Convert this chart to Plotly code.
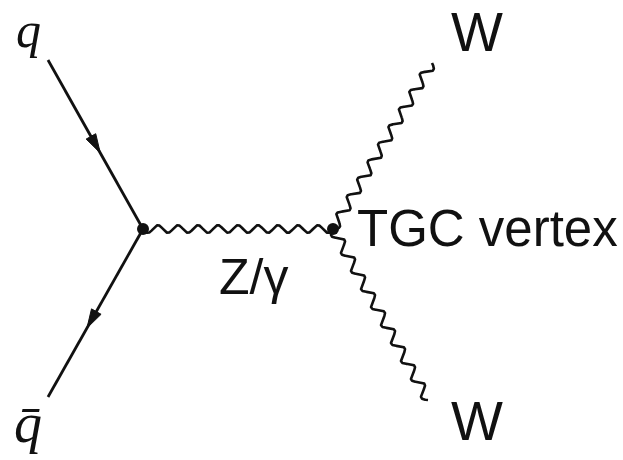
import numpy as np
import plotly.graph_objects as go

# Diagram geometry (pixel coordinates, y grows downward)
quark_start = [48, 60]
antiquark_end = [48, 397]
vertex_left = [143, 229]
vertex_tgc = [333, 229]
w_plus_end = [432, 63]
w_minus_end = [428, 400]

# Labels
label_q = "q"
label_qbar = "q\u0304"
label_w = "W"
label_boson = "Z/\u03b3"
label_vertex = "TGC vertex"

INK = "#111111"


def boson_line(p0, p1, n_waves, amp, pts=800):
    """Sinusoidal (photon-style) propagator between two points."""
    t = np.linspace(0, 1, pts)
    dx, dy = p1[0] - p0[0], p1[1] - p0[1]
    length = np.hypot(dx, dy)
    nx, ny = -dy / length, dx / length
    s = amp * np.sin(2 * np.pi * n_waves * t)
    return p0[0] + dx * t + nx * s, p0[1] + dy * t + ny * s


def arrow_head(p0, p1, frac, length=19, half_width=5.5):
    """Filled triangle on the segment p0->p1, tip at fraction frac."""
    dx, dy = p1[0] - p0[0], p1[1] - p0[1]
    L = np.hypot(dx, dy)
    ux, uy = dx / L, dy / L
    tx, ty = p0[0] + dx * frac, p0[1] + dy * frac
    bx, by = tx - ux * length, ty - uy * length
    px, py = -uy * half_width, ux * half_width
    return [tx, bx + px, bx - px, tx], [ty, by + py, by - py, ty]


fig = go.Figure()

# fermion lines
for a, b in [(quark_start, vertex_left), (vertex_left, antiquark_end)]:
    fig.add_trace(go.Scatter(x=[a[0], b[0]], y=[a[1], b[1]], mode="lines",
                             line=dict(color=INK, width=2.8), hoverinfo="skip"))

# fermion arrows
for (a, b, f) in [(quark_start, vertex_left, 0.55), (vertex_left, antiquark_end, 0.59)]:
    ax, ay = arrow_head(a, b, f)
    fig.add_trace(go.Scatter(x=ax, y=ay, mode="lines", fill="toself",
                             fillcolor=INK, line=dict(color=INK, width=1),
                             hoverinfo="skip"))

# gauge boson lines
wave_style = dict(color=INK, width=2.6)
for p0, p1, n, amp in [(vertex_left, vertex_tgc, 9.5, 3.8),
                       (vertex_tgc, w_plus_end, 9.5, 4.8),
                       (vertex_tgc, w_minus_end, 9.5, 4.8)]:
    wx, wy = boson_line(p0, p1, n, amp)
    fig.add_trace(go.Scatter(x=wx, y=wy, mode="lines", line=wave_style,
                             hoverinfo="skip"))

# vertices
fig.add_trace(go.Scatter(x=[vertex_left[0], vertex_tgc[0]],
                         y=[vertex_left[1], vertex_tgc[1]], mode="markers",
                         marker=dict(color=INK, size=12), hoverinfo="skip"))

serif = dict(family="Liberation Serif", color=INK)
sans = dict(family="Liberation Sans", color=INK)

annotations = [
    dict(x=28, y=0, text=f"<i>{label_q}</i>", font=dict(serif, size=50), xanchor="center", yanchor="top"),
    dict(x=28, y=423, text=f"<i>{label_qbar}</i>", font=dict(serif, size=56), xanchor="center", yanchor="middle"),
    dict(x=477, y=32, text=label_w, font=dict(sans, size=55), xanchor="center", yanchor="middle"),
    dict(x=477, y=421, text=label_w, font=dict(sans, size=55), xanchor="center", yanchor="middle"),
    dict(x=253, y=277, text=label_boson, font=dict(sans, size=50), xanchor="center", yanchor="middle"),
    dict(x=355, y=228, text=label_vertex, font=dict(sans, size=51), xanchor="left", yanchor="middle"),
]
for a in annotations:
    a.update(xref="x", yref="y", showarrow=False)

fig.update_layout(
    width=623, height=460,
    margin=dict(l=0, r=0, t=0, b=0),
    paper_bgcolor="white", plot_bgcolor="white",
    showlegend=False,
    xaxis=dict(range=[0, 623], visible=False, fixedrange=True),
    yaxis=dict(range=[460, 0], visible=False, fixedrange=True),
    annotations=annotations,
)

fig.write_html("out.html", config=dict(displayModeBar=False))
